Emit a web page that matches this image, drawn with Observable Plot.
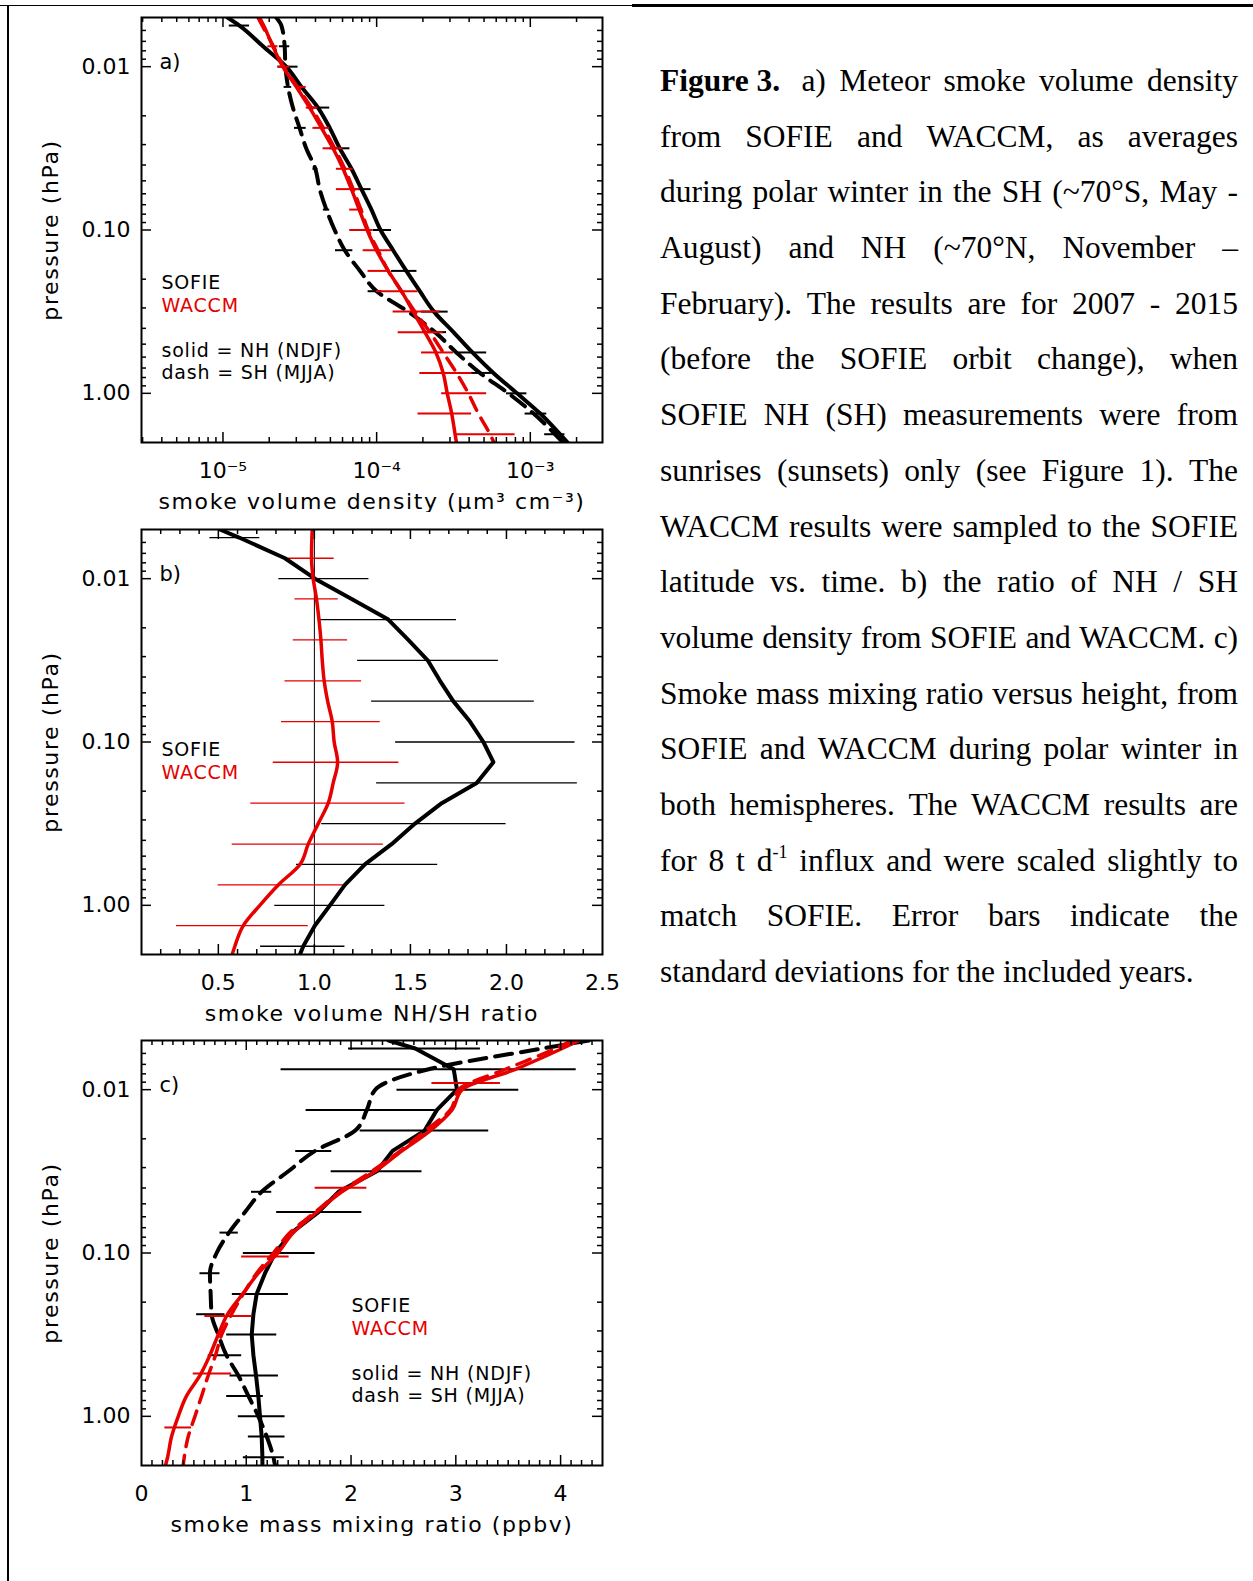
<!DOCTYPE html>
<html>
<head>
<meta charset="utf-8">
<script src="https://cdn.jsdelivr.net/npm/d3@7"></script>
<script src="https://cdn.jsdelivr.net/npm/@observablehq/plot@0.6"></script>
<style>
  html, body { margin: 0; padding: 0; background: #fff; }
  body { width: 1253px; height: 1581px; position: relative; overflow: hidden; }
  .panel { position: absolute; left: 0; z-index: 1; }
  .vline { position: absolute; left: 7px; top: 5px; width: 2px; height: 1576px; background: #000; z-index: 5; }
  .hline1 { position: absolute; left: 0px; top: 5px; width: 632px; height: 1px; background: #000; z-index: 5; }
  .hline2 { position: absolute; left: 632px; top: 4px; width: 621px; height: 3px; background: #000; z-index: 5; }
  #caption { position: absolute; left: 660px; top: 53px; width: 578px;
    font-family: "Liberation Serif", "Times New Roman", serif; font-size: 31.5px; color: #000; }
  .ln { display: flex; justify-content: space-between; height: 55.7px; line-height: 55.7px; white-space: nowrap; }
  .ln span { white-space: nowrap; }
  .ln.tight { letter-spacing: -0.15px; }
  .ln.last { display: block; }
  sup { font-size: 18px; line-height: 0; vertical-align: 13px; }
</style>
</head>
<body>
<div id="pa" class="panel" style="top:0px"></div>
<div id="pb" class="panel" style="top:512px"></div>
<div id="pc" class="panel" style="top:1023px"></div>
<div id="caption"></div>
<div class="vline"></div><div class="hline1"></div><div class="hline2"></div>
<script>
// ---------------- data ----------------
// pressure levels (hPa) of the profiles
const pGrid = [0.005, 0.0056, 0.0075, 0.01, 0.0133, 0.0178, 0.0237, 0.0316, 0.0422, 0.0562, 0.075, 0.1,
               0.133, 0.178, 0.237, 0.316, 0.422, 0.562, 0.75, 1.0, 1.33, 1.78, 2.0];
// error-bar levels
const pQuarter = [0.0056, 0.01, 0.0178, 0.0316, 0.0562, 0.1, 0.178, 0.316, 0.562, 1.0, 1.78];
const pEighth  = [0.0075, 0.0133, 0.0237, 0.0422, 0.075, 0.133, 0.237, 0.422, 0.75, 1.33];
const pWaccmA  = [0.01, 0.0178, 0.0316, 0.0562, 0.1, 0.178, 0.316, 0.562, 1.0, 1.78];
const pWaccmC  = [0.0091, 0.0398, 0.105, 0.243, 0.546, 1.17];

// panel a: smoke volume density (um^3 cm^-3)
const sofieNH_a = [1.07e-5, 1.28e-5, 1.82e-5, 2.58e-5, 3.24e-5, 4.15e-5, 4.95e-5, 5.75e-5, 6.86e-5, 7.96e-5, 9.25e-5, 1.06e-4,
                   1.28e-4, 1.56e-4, 1.91e-4, 2.36e-4, 3.16e-4, 4.2e-4, 5.75e-4, 8.2e-4, 1.16e-3, 1.56e-3, 1.75e-3];
const sofieSH_a = [2.22e-5, 2.4e-5, 2.52e-5, 2.55e-5, 2.65e-5, 2.85e-5, 3.15e-5, 3.48e-5, 3.99e-5, 4.26e-5, 4.71e-5, 5.33e-5,
                   6.2e-5, 7.8e-5, 1.0e-4, 1.6e-4, 2.4e-4, 3.3e-4, 4.7e-4, 7.2e-4, 1.05e-3, 1.45e-3, 1.63e-3];
const waccmNH_a = [1.73e-5, 1.84e-5, 2.11e-5, 2.45e-5, 3.0e-5, 3.66e-5, 4.37e-5, 5.2e-5, 6.04e-5, 6.85e-5, 7.7e-5, 8.67e-5,
                   9.97e-5, 1.19e-4, 1.45e-4, 1.73e-4, 2.06e-4, 2.43e-4, 2.71e-4, 2.88e-4, 3.08e-4, 3.24e-4, 3.31e-4];
const waccmSH_a = [1.69e-5, 1.8e-5, 2.13e-5, 2.48e-5, 3.05e-5, 3.76e-5, 4.5e-5, 5.33e-5, 6.2e-5, 7.03e-5, 7.9e-5, 8.79e-5,
                   1.02e-4, 1.19e-4, 1.45e-4, 1.77e-4, 2.22e-4, 2.71e-4, 3.31e-4, 3.95e-4, 4.59e-4, 5.47e-4, 5.8e-4];
const sofieNH_a_lo = [1.10e-5, 2.28e-5, 3.57e-5, 4.95e-5, 6.86e-5, 9.5e-5, 1.25e-4, 1.96e-4, 3.4e-4, 7.0e-4, 1.24e-3];
const sofieNH_a_hi = [1.49e-5, 3.08e-5, 4.95e-5, 6.7e-5, 9.2e-5, 1.25e-4, 1.83e-4, 2.92e-4, 5.2e-4, 9.5e-4, 1.68e-3];
const sofieSH_a_lo = [2.33e-5, 2.5e-5, 2.92e-5, 3.85e-5, 4.5e-5, 5.4e-5, 8.8e-5, 2.0e-4, 4.15e-4, 9.25e-4];
const sofieSH_a_hi = [2.72e-5, 2.8e-5, 3.48e-5, 4.15e-5, 4.95e-5, 7.0e-5, 1.08e-4, 2.85e-4, 5.6e-4, 1.28e-3];
const waccmNH_a_lo = [1.96e-5, 3.0e-5, 3.85e-5, 5.47e-5, 6.68e-5, 8.17e-5, 9.97e-5, 1.38e-4, 1.91e-4, 1.86e-4];
const waccmNH_a_hi = [2.28e-5, 3.48e-5, 4.95e-5, 7.03e-5, 8.17e-5, 1.25e-4, 1.86e-4, 2.71e-4, 4.15e-4, 4.15e-4];
const waccmSH_a_lo = [2.28e-5, 3.48e-5, 4.48e-5, 5.47e-5, 6.68e-5, 8.79e-5, 1.28e-4, 1.96e-4, 2.65e-4, 3.32e-4];
const waccmSH_a_hi = [2.72e-5, 4.15e-5, 6.04e-5, 7.77e-5, 9.49e-5, 1.22e-4, 2.58e-4, 3.16e-4, 5.2e-4, 7.96e-4];

// panel b: NH/SH ratio
const sofieRatio = [0.508, 0.608, 0.847, 1.003, 1.194, 1.385, 1.489, 1.59, 1.654, 1.723, 1.81, 1.88,
                    1.932, 1.845, 1.663, 1.524, 1.402, 1.263, 1.159, 1.081, 1.003, 0.942, 0.925];
const waccmRatio = [0.989, 0.987, 0.985, 0.994, 1.011, 1.024, 1.034, 1.041, 1.051, 1.069, 1.093, 1.103,
                    1.121, 1.098, 1.072, 1.02, 0.968, 0.925, 0.812, 0.716, 0.63, 0.586, 0.572];
const sofieRatio_lo = [0.456, 0.815, 1.02, 1.225, 1.298, 1.423, 1.324, 1.038, 0.907, 0.794, 0.72];
const sofieRatio_hi = [0.716, 1.284, 1.74, 1.958, 2.145, 2.357, 2.369, 1.998, 1.642, 1.367, 1.159];
const waccmRatio_lo = [0.864, 0.899, 0.89, 0.847, 0.829, 0.786, 0.669, 0.572, 0.499, 0.282];
const waccmRatio_hi = [1.103, 1.124, 1.173, 1.246, 1.343, 1.44, 1.472, 1.359, 1.154, 0.968];
const ratioOne = [1.0];

// panel c: smoke mass mixing ratio (ppbv)
const sofieNH_c = [2.358, 2.613, 2.98, 3.011, 2.82, 2.702, 2.396, 2.247, 1.88, 1.689, 1.434, 1.275,
                   1.179, 1.099, 1.068, 1.052, 1.068, 1.093, 1.115, 1.131, 1.147, 1.154, 1.154];
const sofieSH_c = [4.27, 3.824, 2.74, 2.231, 2.151, 2.04, 1.657, 1.402, 1.147, 0.988, 0.835, 0.717,
                   0.653, 0.66, 0.669, 0.733, 0.81, 0.924, 1.02, 1.115, 1.195, 1.259, 1.275];
const waccmNH_c = [4.175, 4.015, 3.569, 3.059, 2.964, 2.757, 2.486, 2.231, 1.912, 1.673, 1.45, 1.3,
                   1.115, 0.966, 0.822, 0.733, 0.653, 0.558, 0.43, 0.351, 0.287, 0.249, 0.229];
const waccmSH_c = [4.11, 3.95, 3.474, 3.027, 2.948, 2.709, 2.47, 2.199, 1.896, 1.657, 1.418, 1.259,
                   1.099, 0.972, 0.86, 0.765, 0.707, 0.637, 0.574, 0.51, 0.446, 0.408, 0.398];
const sofieNH_c_lo = [1.976, 2.438, 2.087, 1.81, 1.29, 0.972, 0.867, 0.813, 0.845, 0.924, 0.972];
const sofieNH_c_hi = [3.235, 3.601, 3.314, 2.677, 2.103, 1.657, 1.402, 1.291, 1.307, 1.37, 1.364];
const sofieSH_c_lo = [1.332, 1.571, 1.472, 1.05, 0.749, 0.558, 0.526, 0.637, 0.813, 1.02];
const sofieSH_c_hi = [4.149, 2.804, 1.816, 1.243, 0.924, 0.749, 0.797, 0.956, 1.163, 1.37];
const waccm_c_lo = [2.772, 1.657, 0.956, 0.605, 0.494, 0.223];
const waccm_c_hi = [3.426, 2.151, 1.409, 1.052, 0.86, 0.478];

// ticks and labels
const yTicks = [0.01, 0.1, 1];
const yTickLabels = ["0.01", "0.10", "1.00"];
const xTicksA = [1e-5, 1e-4, 1e-3];
const xTickLabelsA = ["10\u207B\u2075", "10\u207B\u2074", "10\u207B\u00B3"];
const xTicksB = [0.5, 1.0, 1.5, 2.0, 2.5];
const xTickLabelsB = ["0.5", "1.0", "1.5", "2.0", "2.5"];
const xTicksC = [0, 1, 2, 3, 4];
const xTickLabelsC = ["0", "1", "2", "3", "4"];
const yTitle = "pressure (hPa)";
const xTitles = ["smoke volume density (\u03BCm\u00B3 cm\u207B\u00B3)", "smoke volume NH/SH ratio", "smoke mass mixing ratio (ppbv)"];
const panelTags = ["a)", "b)", "c)"];
const legendNames = ["SOFIE", "WACCM"];
const legendStyles = ["solid = NH (NDJF)", "dash = SH (MJJA)"];

const captionLines = [
  "<b>Figure&nbsp;3.</b>&nbsp; a) Meteor smoke volume density",
  "from SOFIE and WACCM, as averages",
  "during polar winter in the SH (~70°S, May -",
  "August) and NH (~70°N, November –",
  "February). The results are for 2007 - 2015",
  "(before the SOFIE orbit change), when",
  "SOFIE NH (SH) measurements were from",
  "sunrises (sunsets) only (see Figure 1). The",
  "WACCM results were sampled to the SOFIE",
  "latitude vs. time. b) the ratio of NH / SH",
  "volume density from SOFIE and WACCM. c)",
  "Smoke mass mixing ratio versus height, from",
  "SOFIE and WACCM during polar winter in",
  "both hemispheres. The WACCM results are",
  "for 8 t d<sup>-1</sup> influx and were scaled slightly to",
  "match SOFIE. Error bars indicate the",
  "standard deviations for the included years."
];

// ---------------- helpers ----------------
const RED = "#e60000";
const W = 620, ML = 141, MR = 18, MT = 17, PH = 425;
const PW = W - ML - MR;
const prof = (vs) => pGrid.map((p, i) => ({p, v: vs[i]}));
const bars = (ps, lo, hi) => ps.map((p, i) => ({p, lo: lo[i], hi: hi[i]}));

function logMinor(lo, hi) {
  const out = [];
  for (let e = -7; e <= 2; e++) for (let k = 2; k <= 9; k++) {
    const v = +(k * Math.pow(10, e)).toPrecision(3);
    if (v > lo && v < hi) out.push(v);
  }
  return out;
}
function linMinor(lo, hi, step, majors) {
  const out = [];
  for (let i = Math.ceil(lo / step); i * step < hi - 1e-9; i++) {
    const v = +(i * step).toFixed(3);
    if (v > lo + 1e-9 && !majors.some(m => Math.abs(m - v) < 1e-9)) out.push(v);
  }
  return out;
}

function tickMarks(xMajor, xMinor, yMajor, yMinor) {
  const big = 10, small = 5, sw = 1.5;
  return [
    Plot.tickY(yMajor, {y: d => d, insetRight: PW - big, strokeWidth: sw}),
    Plot.tickY(yMajor, {y: d => d, insetLeft: PW - big, strokeWidth: sw}),
    Plot.tickY(yMinor, {y: d => d, insetRight: PW - small, strokeWidth: sw}),
    Plot.tickY(yMinor, {y: d => d, insetLeft: PW - small, strokeWidth: sw}),
    Plot.tickX(xMajor, {x: d => d, insetTop: PH - big, strokeWidth: sw}),
    Plot.tickX(xMajor, {x: d => d, insetBottom: PH - big, strokeWidth: sw}),
    Plot.tickX(xMinor, {x: d => d, insetTop: PH - small, strokeWidth: sw}),
    Plot.tickX(xMinor, {x: d => d, insetBottom: PH - small, strokeWidth: sw})
  ];
}

function label(txt, opts) {
  return Plot.text([txt], {text: d => d, frameAnchor: "top-left", textAnchor: "start", lineAnchor: "middle", fontSize: 19, ...opts});
}

function makePanel({x, height, xMajorMarks, xMinor, xLabelTicks, xLabelText, title, tag, legendDx, legendDy, styleLegend, layers}) {
  const yMinor = logMinor(0.005, 2).filter(v => !yTicks.includes(v));
  const marks = [
    ...layers,
    Plot.frame({stroke: "black", strokeWidth: 2}),
    ...tickMarks(xMajorMarks, xMinor, yTicks, yMinor),
    Plot.axisY({ticks: yTicks, tickSize: 0, tickPadding: 11, fontSize: 22, label: null,
                tickFormat: d => yTickLabels[yTicks.indexOf(d)]}),
    Plot.axisX({ticks: xLabelTicks, tickSize: 0, tickPadding: 20, fontSize: 22, label: null,
                tickFormat: d => xLabelText[xLabelTicks.indexOf(d)]}),
    Plot.text([yTitle], {text: d => d, frameAnchor: "left", dx: -91, rotate: -90, textAnchor: "middle", lineAnchor: "middle", fontSize: 22}),
    Plot.text([title], {text: d => d, frameAnchor: "bottom", dy: 59, textAnchor: "middle", lineAnchor: "middle", fontSize: 22}),
    label(tag, {dx: 18, dy: 45, fontSize: 21}),
    label(legendNames[0], {dx: legendDx, dy: legendDy, fill: "black"}),
    label(legendNames[1], {dx: legendDx, dy: legendDy + 23, fill: RED})
  ];
  if (styleLegend) {
    marks.push(label(legendStyles[0], {dx: legendDx, dy: legendDy + 68}));
    marks.push(label(legendStyles[1], {dx: legendDx, dy: legendDy + 90}));
  }
  const svg = Plot.plot({
    width: W, height,
    marginLeft: ML, marginRight: MR, marginTop: MT, marginBottom: height - MT - PH,
    x, y: {type: "log", domain: [0.005, 2], reverse: true},
    style: {fontFamily: "DejaVu Sans, sans-serif", fontSize: "20px", color: "black", background: "white", overflow: "visible"},
    marks
  });
  // letter spacing of titles and legend texts
  svg.querySelectorAll("text").forEach(t => {
    const s = t.textContent;
    if (s === yTitle || xTitles.includes(s)) t.style.letterSpacing = "1.6px";
    else if (legendNames.includes(s) || legendStyles.includes(s)) t.style.letterSpacing = "0.8px";
  });
  return svg;
}

const solidLine = (vs, stroke, curve) => Plot.line(prof(vs), {x: "v", y: "p", stroke, strokeWidth: stroke === RED ? 3.5 : 4, curve, clip: true, strokeLinejoin: "round"});
const dashLine = (vs, stroke, curve) => Plot.line(prof(vs), {x: "v", y: "p", stroke, strokeWidth: stroke === RED ? 3.5 : 4, curve, clip: true, strokeDasharray: stroke === RED ? "14,9" : "17,9"});
const errBars = (ps, lo, hi, stroke, sw) => Plot.ruleY(bars(ps, lo, hi), {y: "p", x1: "lo", x2: "hi", stroke, strokeWidth: sw, clip: true});

// ---------------- panel a ----------------
const xDomA = [2.95e-6, 2.95e-3];
document.getElementById("pa").append(makePanel({
  x: {type: "log", domain: xDomA},
  height: 512,
  xMajorMarks: xTicksA, xMinor: logMinor(xDomA[0], xDomA[1]).filter(v => !xTicksA.includes(v)),
  xLabelTicks: xTicksA, xLabelText: xTickLabelsA, title: xTitles[0], tag: panelTags[0],
  legendDx: 20, legendDy: 265, styleLegend: true,
  layers: [
    errBars(pQuarter, sofieNH_a_lo, sofieNH_a_hi, "black", 2),
    errBars(pEighth, sofieSH_a_lo, sofieSH_a_hi, "black", 2),
    solidLine(sofieNH_a, "black", "monotone-y"),
    dashLine(sofieSH_a, "black", "monotone-y"),
    errBars(pEighth, waccmNH_a_lo, waccmNH_a_hi, RED, 2),
    errBars(pWaccmA, waccmSH_a_lo, waccmSH_a_hi, RED, 2),
    solidLine(waccmNH_a, RED, "monotone-y"),
    dashLine(waccmSH_a, RED, "monotone-y")
  ]
}));

// ---------------- panel b ----------------
const xMajB = [0.5, 1.0, 1.5, 2.0];
document.getElementById("pb").append(makePanel({
  x: {type: "linear", domain: [0.1, 2.5]},
  height: 511,
  xMajorMarks: xMajB, xMinor: linMinor(0.1, 2.5, 0.1, xMajB),
  xLabelTicks: xTicksB, xLabelText: xTickLabelsB, title: xTitles[1], tag: panelTags[1],
  legendDx: 20, legendDy: 220, styleLegend: false,
  layers: [
    Plot.ruleX(ratioOne, {x: d => d, stroke: "black", strokeWidth: 1}),
    errBars(pQuarter, sofieRatio_lo, sofieRatio_hi, "black", 1.3),
    errBars(pEighth, waccmRatio_lo, waccmRatio_hi, RED, 1.3),
    solidLine(sofieRatio, "black", "linear"),
    solidLine(waccmRatio, RED, "monotone-y")
  ]
}));

// ---------------- panel c ----------------
const xMajC = [1, 2, 3, 4];
document.getElementById("pc").append(makePanel({
  x: {type: "linear", domain: [0, 4.4]},
  height: 558,
  xMajorMarks: xMajC, xMinor: linMinor(0, 4.4, 0.1, xMajC),
  xLabelTicks: xTicksC, xLabelText: xTickLabelsC, title: xTitles[2], tag: panelTags[2],
  legendDx: 210, legendDy: 265, styleLegend: true,
  layers: [
    errBars(pQuarter, sofieNH_c_lo, sofieNH_c_hi, "black", 2),
    errBars(pEighth, sofieSH_c_lo, sofieSH_c_hi, "black", 2),
    solidLine(sofieNH_c, "black", "linear"),
    dashLine(sofieSH_c, "black", "monotone-y"),
    errBars(pWaccmC, waccm_c_lo, waccm_c_hi, RED, 2),
    solidLine(waccmNH_c, RED, "monotone-y"),
    dashLine(waccmSH_c, RED, "monotone-y")
  ]
}));

// ---------------- caption ----------------
const cap = document.getElementById("caption");
captionLines.forEach((line, i) => {
  const div = document.createElement("div");
  if (i === captionLines.length - 1) {
    div.className = "ln last";
    div.innerHTML = line;
  } else {
    div.className = i === 10 ? "ln tight" : "ln";
    div.innerHTML = line.split(" ").map(w => `<span>${w}</span>`).join("");
  }
  cap.append(div);
});
</script>
</body>
</html>
